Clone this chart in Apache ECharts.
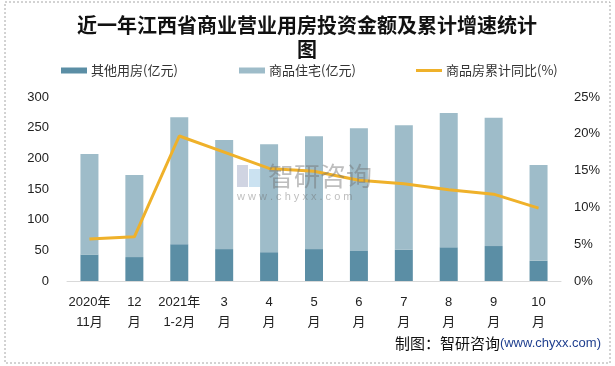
<!DOCTYPE html>
<html>
<head>
<meta charset="utf-8">
<script src="https://cdn.jsdelivr.net/npm/echarts@6/dist/echarts.min.js"></script>
<style>html,body{margin:0;padding:0;background:#fff}#c{width:615px;height:366px}</style>
</head>
<body>
<div id="c"></div>
<script>
var categories = ['2020年\n11月','12\n月','2021年\n1-2月','3\n月','4\n月','5\n月','6\n月','7\n月','8\n月','9\n月','10\n月'];
var otherValues = [43, 39, 60, 52, 47, 52, 49, 51, 55, 57, 33];
var residentialValues = [164, 134, 207, 178, 176, 184, 200, 203, 219, 209, 156];
var growthValues = [5.7, 6.0, 19.7, 17.5, 15.3, 14.9, 13.7, 13.2, 12.4, 11.8, 9.9];
var seriesNames = ['其他用房(亿元)', '商品住宅(亿元)', '商品房累计同比(%)'];
var titleText = '近一年江西省商业营业用房投资金额及累计增速统计\n图';
var sourceText = '制图：智研咨询';
var sourceUrl = '(www.chyxx.com)';

var FONT = '"Liberation Sans", "Noto Sans CJK SC", sans-serif';
var CJK = '"Noto Sans CJK SC", "Liberation Sans", sans-serif';
var cDark = '#5B8EA5', cLight = '#9EBCC9', cLine = '#EFB12A';

var chart = echarts.init(document.getElementById('c'), null, {renderer: 'canvas'});
function legendAt(name, left, icon, h) {
  return {
    data: [name], left: left, top: 64, icon: icon, itemWidth: 26, itemHeight: h,
    itemGap: 0, padding: 0, selectedMode: false,
    textStyle: {fontSize: 13, color: '#333', fontFamily: CJK, padding: [0, 0, 0, -1]}
  };
}
chart.setOption({
  animation: false,
  legend: [
    legendAt(seriesNames[0], 61, 'rect', 6),
    legendAt(seriesNames[1], 239, 'rect', 6),
    legendAt(seriesNames[2], 416, 'rect', 3)
  ],
  grid: {left: 67, right: 54, top: 97, bottom: 85, containLabel: false},
  xAxis: {
    type: 'category', data: categories,
    axisLine: {lineStyle: {color: '#d9d9d9', width: 1}},
    axisTick: {show: false},
    axisLabel: {interval: 0, fontSize: 13, lineHeight: 20, color: '#222', margin: 11, fontFamily: FONT}
  },
  yAxis: [
    {type: 'value', min: 0, max: 300, interval: 50,
     axisLine: {show: false}, axisTick: {show: false}, splitLine: {show: false},
     axisLabel: {fontSize: 13, color: '#222', margin: 18, fontFamily: FONT}},
    {type: 'value', min: 0, max: 25, interval: 5, position: 'right',
     axisLine: {show: false}, axisTick: {show: false}, splitLine: {show: false},
     axisLabel: {fontSize: 13, color: '#222', margin: 13, fontFamily: FONT, formatter: '{value}%'}}
  ],
  series: [
    {name: seriesNames[0], type: 'bar', stack: 'a', data: otherValues, barWidth: 18, itemStyle: {color: cDark}},
    {name: seriesNames[1], type: 'bar', stack: 'a', data: residentialValues, barWidth: 18, itemStyle: {color: cLight}},
    {name: seriesNames[2], type: 'line', yAxisIndex: 1, data: growthValues, symbol: 'none', z: 5,
     lineStyle: {color: cLine, width: 3}, itemStyle: {color: cLine}}
  ],
  graphic: [
    {type: 'rect', shape: {x: 5, y: 2, width: 605, height: 361}, silent: true, z: 0,
     style: {fill: null, stroke: '#a6a6a6', lineWidth: 1, lineDash: [2, 2]}},
    {type: 'text', x: 307, y: 13, z: 10, silent: true,
     style: {text: titleText, textAlign: 'center', fill: '#111', font: 'bold 20px "Noto Sans CJK SC", sans-serif', lineHeight: 24}},
    {type: 'text', right: 14, top: 336, z: 10, silent: true,
     style: {text: '{a|' + sourceText + '}{b|' + sourceUrl + '}',
       rich: {a: {fontSize: 15, fontFamily: CJK, fill: '#111'}, b: {fontSize: 13, fontFamily: '"Liberation Sans", sans-serif', fill: '#1F3F8F'}}}},
    {type: 'rect', shape: {x: 237, y: 165, width: 11, height: 22}, z: 50, silent: true, style: {fill: 'rgba(150,160,190,0.45)'}},
    {type: 'rect', shape: {x: 249, y: 169, width: 11, height: 18}, z: 50, silent: true, style: {fill: 'rgba(140,190,225,0.45)'}},
    {type: 'text', x: 268, y: 163, z: 50, silent: true, style: {text: '智研咨询', font: '26px "Noto Sans CJK SC", sans-serif', fill: 'rgba(110,110,110,0.45)'}},
    {type: 'text', x: 237, y: 191, z: 50, silent: true, style: {text: 'w w w . c h y x x . c o m', font: '11px "Liberation Sans", sans-serif', fill: 'rgba(110,110,110,0.45)'}}
  ]
});
</script>
</body>
</html>
